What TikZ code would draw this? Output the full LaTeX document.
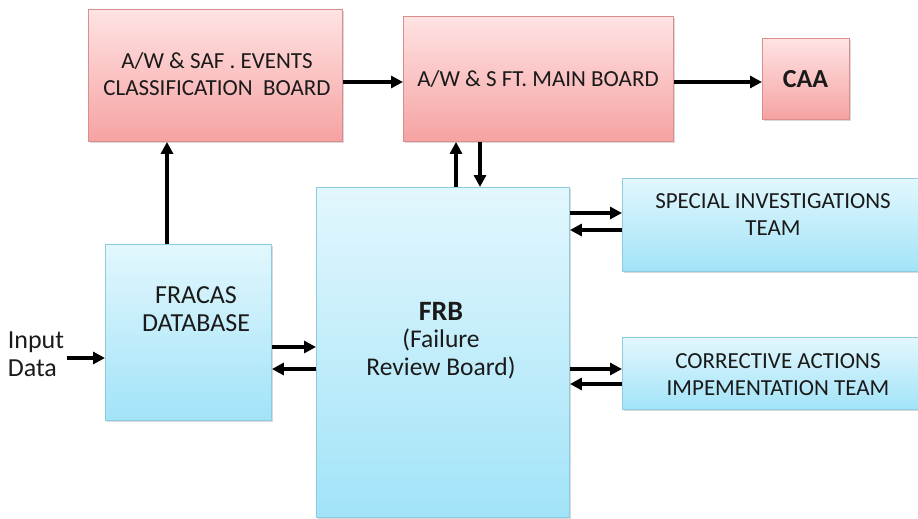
\documentclass[tikz,border=0pt]{standalone}
\usepackage{fontspec}
\setmainfont{Carlito}
\usetikzlibrary{arrows.meta,shadows}
\definecolor{pinktop}{HTML}{FFE3E3}
\definecolor{pinkbot}{HTML}{F6A2A2}
\definecolor{pinkline}{HTML}{D98E8E}
\definecolor{bluetop}{HTML}{E2F7FD}
\definecolor{bluebot}{HTML}{A2E3F8}
\definecolor{blueline}{HTML}{8FCBDD}
\definecolor{txt}{HTML}{1A1A1A}
\tikzset{
  pinkbox/.style={draw=pinkline, line width=0.9pt, top color=pinktop, bottom color=pinkbot, anchor=north west, inner sep=0pt,
    drop shadow={shadow xshift=1.5pt, shadow yshift=-1.5pt, fill=black, opacity=0.15}},
  bluebox/.style={draw=blueline, line width=0.9pt, top color=bluetop, bottom color=bluebot, anchor=north west, inner sep=0pt,
    drop shadow={shadow xshift=1.5pt, shadow yshift=-1.5pt, fill=black, opacity=0.15}},
  lbl/.style={text=txt, font=\fontsize{23}{27}\selectfont, align=center, inner sep=0pt},
  conn/.style={line width=3.6pt, -{Triangle[length=12pt,width=12pt]}},
}
\begin{document}
\begin{tikzpicture}[x=1pt,y=-1pt]
\useasboundingbox (0,0) rectangle (918,519);
% boxes
\node[pinkbox, minimum width=254pt, minimum height=132pt] (cls) at (88,9) {};
\node[pinkbox, minimum width=270pt, minimum height=125pt] (main) at (403,16) {};
\node[pinkbox, minimum width=87pt, minimum height=81pt] (caa) at (762,38) {};
\node[bluebox, minimum width=253pt, minimum height=330pt] (frb) at (316,187) {};
\node[bluebox, minimum width=166pt, minimum height=176pt] (fra) at (105,244) {};
\node[bluebox, minimum width=296pt, minimum height=93pt] (sit) at (622,178) {};
\node[bluebox, minimum width=296pt, minimum height=72pt] (cait) at (622,337) {};
% texts
\node[lbl] (clst) at (217,74) {A/W \& SAF . EVENTS\\CLASSIFICATION\ \ BOARD};
\node[lbl] (maint) at (538,79) {A/W \& S FT. MAIN BOARD};
\node[lbl, font=\fontsize{26}{27}\selectfont\bfseries] (caat) at (805.5,79) {CAA};
\node[lbl, font=\fontsize{25.5}{27.5}\selectfont] (frbt) at (441,340.5) {{\fontsize{28}{27.5}\selectfont\bfseries FRB}\\(Failure\\Review Board)};
\node[lbl, font=\fontsize{26}{28}\selectfont] (frat) at (196,309) {FRACAS\\DATABASE};
\node[lbl] (sitt) at (773,214.5) {SPECIAL INVESTIGATIONS\\TEAM};
\node[lbl] (caitt) at (778,374.5) {CORRECTIVE ACTIONS\\IMPEMENTATION TEAM};
\node[lbl, align=left, font=\fontsize{26}{28}\selectfont] (inp) at (36,354) {Input\\Data};
\coordinate (inpe) at (67,358);
% connectors
\draw[conn] (cls.east |- 0,82) -- (main.west |- 0,82);
\draw[conn] (main.east |- 0,82) -- (caa.west |- 0,82);
\draw[conn] (fra.north -| 167,0) -- (cls.south -| 167,0);
\draw[conn] (frb.north -| 456,0) -- (main.south -| 456,0);
\draw[conn] (main.south -| 480,0) -- (frb.north -| 480,0);
\draw[conn] (fra.east |- 0,347) -- (frb.west |- 0,347);
\draw[conn] (frb.west |- 0,369) -- (fra.east |- 0,369);
\draw[conn] (frb.east |- 0,213) -- (sit.west |- 0,213);
\draw[conn] (sit.west |- 0,230) -- (frb.east |- 0,230);
\draw[conn] (frb.east |- 0,369) -- (cait.west |- 0,369);
\draw[conn] (cait.west |- 0,384) -- (frb.east |- 0,384);
\draw[conn] (inpe) -- (fra.west |- inpe);
\end{tikzpicture}
\end{document}
